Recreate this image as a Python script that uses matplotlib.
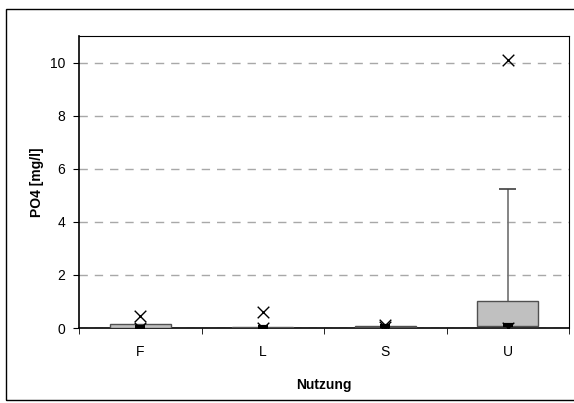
import matplotlib.pyplot as plt
from matplotlib.patches import Rectangle

plt.rcParams['font.family'] = ['Liberation Sans', 'DejaVu Sans']
plt.rcParams['font.size'] = 10

categories = ['F', 'L', 'S', 'U']
q1 = [0.0, 0.0, 0.05, 0.09]
median = [0.05, 0.02, 0.06, 0.10]
q3 = [0.14, 0.05, 0.09, 1.00]
whisker_hi = [0.14, 0.05, 0.09, 5.25]
mins = [0.0, 0.0, 0.03, 0.0]
maxs = [0.47, 0.60, 0.10, 10.1]
yticks = [0, 2, 4, 6, 8, 10]

fig = plt.figure(figsize=(5.74, 4.03), dpi=100)
# outer chart frame
fig.patches.append(Rectangle((6 / 574, 3 / 403), 570 / 574, 391 / 403,
                             transform=fig.transFigure, fill=False,
                             edgecolor='black', linewidth=1))
ax = fig.add_axes([79 / 574, 75 / 403, 490 / 574, 292 / 403])

x = list(range(len(categories)))
heights = [b - a for a, b in zip(q1, q3)]

# whiskers
for i in x:
    if whisker_hi[i] > q3[i]:
        ax.vlines(i, q3[i], whisker_hi[i], color='#707070', linewidth=1.2, zorder=2)
        ax.hlines(whisker_hi[i], i - 0.07, i + 0.07, color='#404040', linewidth=1.2, zorder=2)

ax.bar(x, heights, bottom=q1, width=0.5, color='#C0C0C0', edgecolor='#505050',
       linewidth=1, zorder=3)
ax.scatter(x, median, marker='_', s=45, color='black', linewidths=3, zorder=4)
ax.scatter(x, maxs, marker='x', s=70, color='black', linewidths=1, zorder=5)
ax.scatter(x, mins, marker='x', s=70, color='black', linewidths=1, zorder=5)

ax.set_xlim(-0.5, len(categories) - 0.5)
ax.set_ylim(0, 11)
ax.set_yticks(yticks)
ax.yaxis.grid(True, linestyle=(0, (6, 5)), color='#A8A8A8', linewidth=1)
ax.set_axisbelow(True)

ax.set_xticks(x)
ax.set_xticklabels(categories)
ax.tick_params(axis='x', length=0, pad=12)
ax.set_xticks([i - 0.5 for i in range(len(categories) + 1)], minor=True)
ax.tick_params(axis='x', which='minor', length=4, direction='out')
ax.tick_params(axis='y', length=4, direction='out', pad=6)

for s in ['top', 'right']:
    ax.spines[s].set_linewidth(0.8)
for s in ['left', 'bottom']:
    ax.spines[s].set_linewidth(1.2)

ax.set_xlabel('Nutzung', fontweight='bold', labelpad=14)
ax.set_ylabel('PO4 [mg/l]', fontweight='bold', labelpad=4)

fig.savefig('out.png', dpi=100)
